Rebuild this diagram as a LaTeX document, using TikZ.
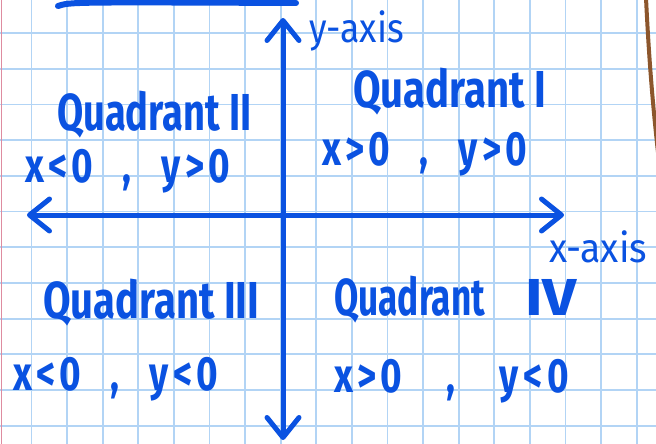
\documentclass[tikz,border=0pt]{standalone}
\usepackage{fontspec}
\setmainfont{Fira Sans}
\usepackage{tikz}
\usetikzlibrary{arrows.meta}
\definecolor{penblue}{RGB}{10,82,225}
\definecolor{gridblue}{RGB}{178,212,245}
\definecolor{marginpink}{RGB}{222,140,160}
\definecolor{coverbrown}{RGB}{140,86,44}
\newcommand{\sepgap}{\hspace{0.8em}}
\newcommand{\tall}[2][1]{\scalebox{#1}[1.3]{#2}}

\begin{document}
\begin{tikzpicture}[x=1pt, y=-1pt,
    gridline/.style={gridblue, line width=1.8pt},
    axis/.style={penblue, line width=5pt, line cap=round,
      >={Straight Barb[round,length=20pt,width=32pt]}},
    quad/.style={inner sep=0pt, anchor=base west, text=penblue,
      font=\bfseries\fontsize{40}{42}\selectfont},
    cond/.style={quad, font=\bfseries\fontsize{37}{39}\selectfont\addfontfeature{LetterSpace=12}},
    axlabel/.style={inner sep=0pt, anchor=base west, text=penblue,
      font=\fontsize{34}{36}\selectfont}]
  % Paper, margin and cover:
  \clip (0,0) rectangle (656,444);
  \fill[white] (0,0) rectangle (656,444);
  \foreach \i in {0,...,17}
    \draw[gridline] (31.5+35.6*\i,0) -- ++(0,444);
  \foreach \j in {0,...,11}
    \draw[gridline] (0,33+35.7*\j) -- ++(656,0);
  \draw[marginpink, line width=1.5pt] (1.5,0) -- (1.5,444);
  \draw[coverbrown, line width=4pt] (646,-2) .. controls (649,60) and (653,110) .. (660,170);
  \draw[penblue, line width=6pt, line cap=round] (58,6) .. controls (70,2) .. (296,3);
  % Axes:
  \coordinate (xl) at (27,215);
  \coordinate (xr) at (564,215);
  \coordinate (yt) at (283,18);
  \coordinate (yb) at (283,440);
  \draw[axis,<->] (xl) -- (xr);
  \draw[axis,<->] (yb) -- (yt);
  \node[axlabel] (ylab) at (309,43) {\scalebox{1.05}[1.2]{y-axis}};
  \node[axlabel] (xlab) at (549,262) {\scalebox{1.1}[1.2]{x-axis}};
  % Quadrants:
  \node[quad] (q1) at (353,107) {\tall{Quadrant I}};
  \node[cond] (c1) at (322,165) {\tall{x>0\sepgap,\sepgap y>0}};
  \node[quad] (q2) at (57,130) {\tall[0.95]{Quadrant II}};
  \node[cond] (c2) at (25,182) {\tall{x<0\sepgap,\sepgap y>0}};
  \node[quad] (q3) at (43,318) {\tall{Quadrant III}};
  \node[cond] (c3) at (13,390) {\tall{x<0\sepgap,\sepgap y<0}};
  \node[quad] (q4) at (334,315) {\tall[0.88]{Quadrant}\hspace{1em}\tall[1.5]{IV}};
  \node[cond] (c4) at (334,392) {\tall{x>0\hspace{1.2em},\hspace{1.2em}y<0}};
\end{tikzpicture}
\end{document}
